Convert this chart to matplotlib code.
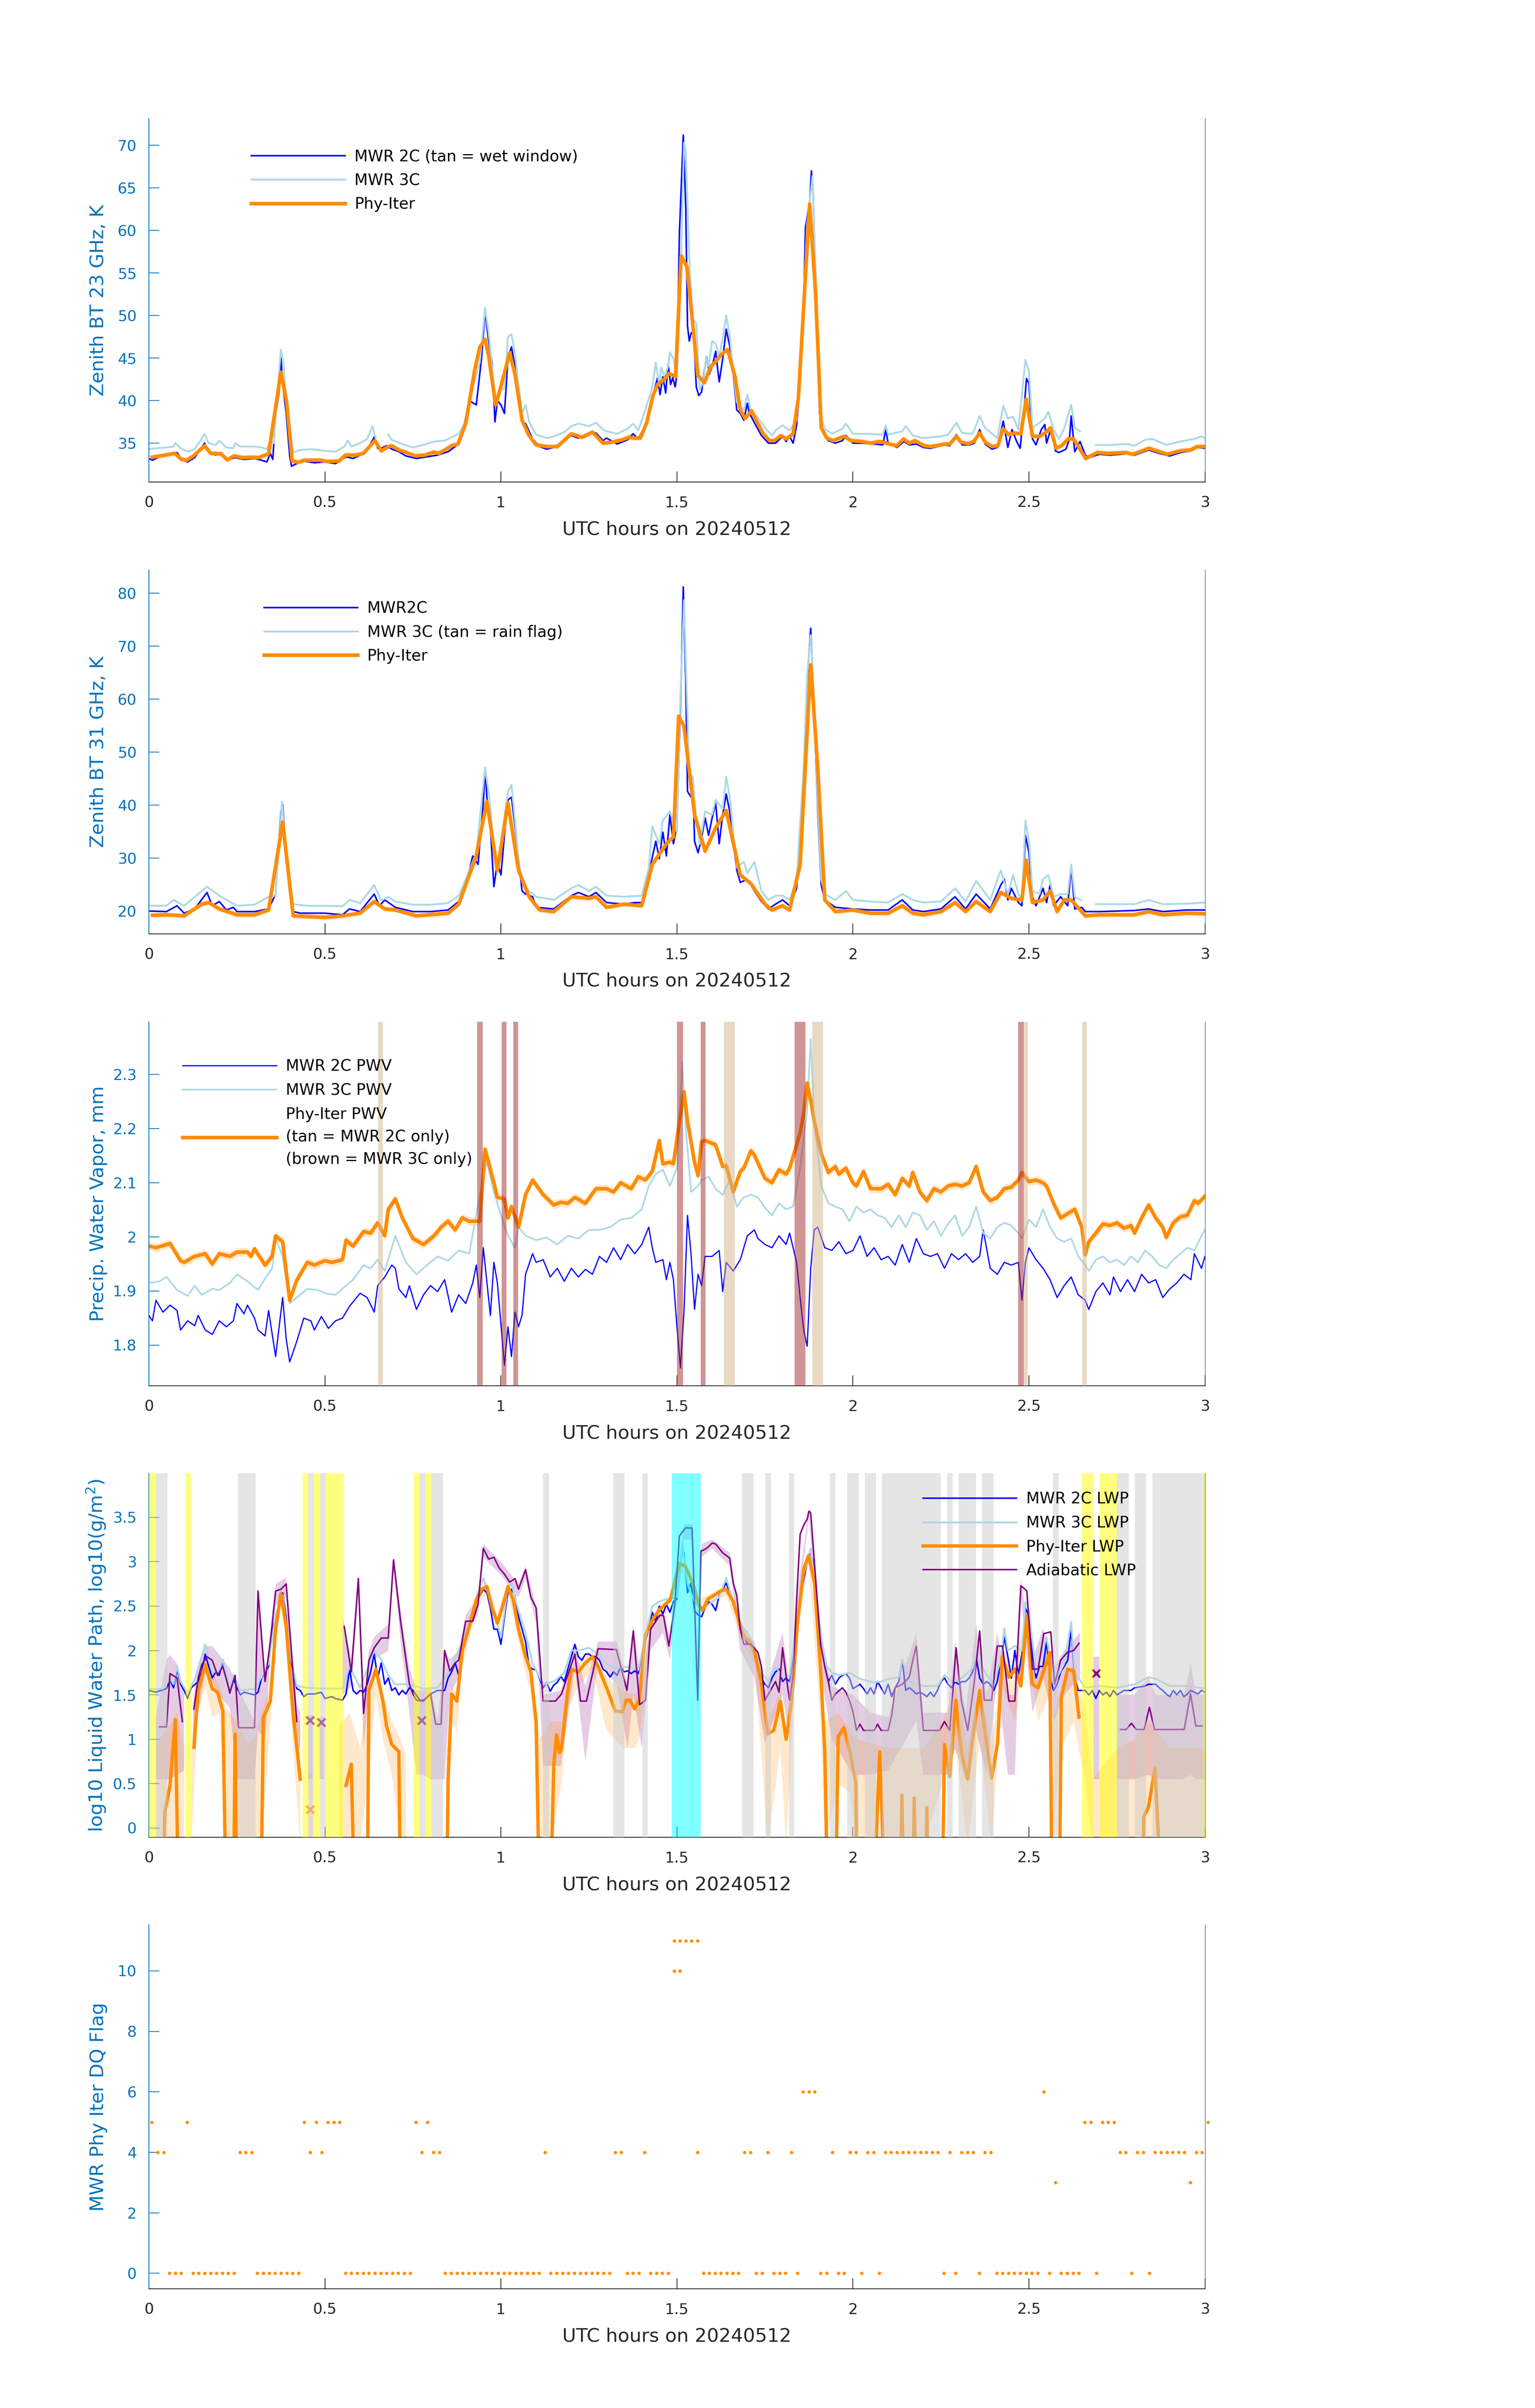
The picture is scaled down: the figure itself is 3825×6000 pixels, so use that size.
import numpy as np
import matplotlib
matplotlib.use("Agg")
import matplotlib.pyplot as plt
from matplotlib.ticker import FuncFormatter

nan = np.nan

# ---------------- values (t in UTC hours) ----------------

# Zenith BT 23 GHz, K
bt23_2c = [(0.00,33.2),(0.01,33.0),(0.03,33.4),(0.06,33.6),(0.08,33.9),(0.095,33.0),(0.11,32.8),(0.13,33.3),
           (0.158,35.0),(0.17,34.0),(0.19,33.6),(0.205,33.9),(0.22,33.0),(0.245,33.3),(0.27,33.1),(0.30,33.2),
           (0.32,33.0),(0.335,32.8),(0.345,33.8),(0.352,33.1),(0.36,38.4),(0.37,41.0),(0.375,45.0),(0.38,42.0),
           (0.39,38.5),(0.40,33.5),(0.405,32.3),(0.42,32.6),(0.44,32.9),(0.47,32.7),(0.50,32.8),(0.53,32.6),
           (0.56,33.4),(0.58,33.2),(0.60,33.6),(0.62,34.2),(0.64,35.7),(0.65,34.4),(0.66,34.4),(0.675,34.7),
           (0.69,34.3),(0.71,34.0),(0.73,33.5),(0.76,33.2),(0.79,33.4),(0.82,33.6),(0.85,34.0),(0.87,34.6),
           (0.89,36.0),(0.91,40.0),(0.93,39.5),(0.945,45.0),(0.955,50.5),(0.965,47.0),(0.975,44.5),(0.983,37.5),
           (0.99,40.0),(1.00,39.5),(1.01,38.5),(1.02,45.0),(1.03,46.3),(1.04,44.0),(1.05,41.0),(1.06,37.5),
           (1.07,37.3),(1.09,35.5),(1.11,34.6),(1.13,34.3),(1.15,34.5),(1.18,35.3),(1.20,35.9),(1.22,35.6),
           (1.25,36.1),(1.27,36.2),(1.29,35.3),(1.30,35.6),(1.33,34.9),(1.36,35.4),(1.375,36.1),(1.39,35.5),
           (1.41,37.1),(1.43,40.3),(1.445,42.7),(1.452,40.7),(1.46,42.8),(1.468,40.9),(1.475,44.3),(1.482,41.9),
           (1.488,42.7),(1.495,41.6),(1.50,43.1),(1.507,59.7),(1.518,71.2),(1.525,62.7),(1.53,48.8),(1.535,47.0),
           (1.54,47.9),(1.547,48.2),(1.555,41.6),(1.562,40.6),(1.57,41.0),(1.578,43.6),(1.585,45.1),(1.592,43.1),
           (1.60,44.0),(1.61,45.8),(1.62,42.2),(1.63,44.9),(1.64,48.4),(1.65,46.4),(1.66,43.1),(1.67,38.9),
           (1.68,38.5),(1.69,37.7),(1.70,39.7),(1.705,38.6),(1.72,37.4),(1.74,35.9),(1.76,35.0),(1.78,35.0),
           (1.80,35.8),(1.81,35.2),(1.82,35.8),(1.83,35.0),(1.84,37.1),(1.85,42.2),(1.86,51.3),(1.865,60.3),
           (1.872,62.1),(1.877,63.3),(1.882,67.0),(1.887,64.2),(1.893,55.2),(1.90,45.2),(1.905,38.6),(1.91,36.8),
           (1.92,35.8),(1.93,35.3),(1.95,35.0),(1.97,35.3),(1.98,35.9),(2.00,35.0),(2.03,35.0),(2.06,34.9),
           (2.085,34.8),(2.093,36.6),(2.10,35.0),(2.125,34.5),(2.145,35.2),(2.16,34.8),(2.18,34.9),(2.20,34.5),
           (2.22,34.4),(2.26,34.8),(2.275,34.7),(2.294,36.0),(2.31,34.8),(2.33,34.8),(2.345,35.0),(2.36,36.6),
           (2.375,34.9),(2.395,34.3),(2.41,34.5),(2.427,37.6),(2.44,34.5),(2.452,36.6),(2.465,35.2),(2.475,34.4),
           (2.487,39.5),(2.493,42.6),(2.50,42.0),(2.51,35.5),(2.52,34.8),(2.535,36.6),(2.545,37.2),(2.55,35.0),
           (2.563,36.8),(2.575,34.1),(2.585,33.9),(2.605,34.3),(2.615,35.5),(2.62,38.2),(2.63,34.0),(2.645,35.2),
           (2.66,33.6),(2.67,33.3),(2.70,33.7),(2.73,33.6),(2.76,33.7),(2.78,33.8),(2.80,33.6),(2.84,34.2),
           (2.87,33.8),(2.90,33.5),(2.93,33.9),(2.96,34.1),(2.98,34.5),(3.00,34.4)]
bt23_3c = [(0.00,34.3),(0.02,34.4),(0.05,34.5),(0.07,34.6),(0.075,35.0),(0.09,34.4),(0.11,34.0),(0.13,34.3),
           (0.145,35.2),(0.158,36.1),(0.17,35.0),(0.19,34.8),(0.20,35.3),(0.22,34.5),(0.24,34.4),(0.245,35.0),
           (0.26,34.6),(0.30,34.6),(0.32,34.5),(0.335,34.3),(0.345,35.2),(0.355,35.0),(0.36,38.0),(0.37,43.5),
           (0.375,46.0),(0.382,44.5),(0.39,40.0),(0.40,37.0),(0.41,33.9),(0.43,34.2),(0.46,34.3),(0.50,34.1),
           (0.53,34.0),(0.555,34.6),(0.565,35.3),(0.575,34.6),(0.60,35.0),(0.62,35.5),(0.635,37.0),(0.644,35.6),
           (0.66,nan),(0.68,36.0),(0.69,35.4),(0.72,34.9),(0.75,34.5),(0.78,34.8),(0.81,35.2),(0.84,35.3),
           (0.86,35.7),(0.88,36.1),(0.90,37.6),(0.92,41.5),(0.94,44.5),(0.955,50.9),(0.965,48.0),(0.975,44.0),
           (0.985,39.5),(0.995,41.0),(1.01,41.5),(1.02,47.5),(1.03,47.8),(1.04,45.5),(1.05,42.0),(1.06,38.5),
           (1.07,39.5),(1.08,37.5),(1.10,36.0),(1.13,35.6),(1.15,35.8),(1.18,36.3),(1.20,37.0),(1.22,37.3),
           (1.25,37.0),(1.27,37.4),(1.29,36.6),(1.30,36.4),(1.33,36.1),(1.36,36.7),(1.375,37.3),(1.39,36.5),
           (1.41,38.9),(1.43,41.6),(1.44,44.5),(1.45,41.8),(1.455,43.9),(1.465,42.8),(1.475,44.0),(1.48,45.7),
           (1.49,44.9),(1.50,42.8),(1.51,53.7),(1.52,70.3),(1.525,69.3),(1.535,56.7),(1.545,49.6),(1.555,49.1),
           (1.565,41.3),(1.575,42.2),(1.583,45.2),(1.59,44.0),(1.60,47.0),(1.61,46.7),(1.62,45.2),(1.63,47.3),
           (1.64,50.0),(1.65,47.6),(1.66,43.4),(1.67,39.8),(1.69,38.9),(1.70,40.7),(1.71,38.9),(1.73,38.0),
           (1.75,36.8),(1.77,35.9),(1.78,36.5),(1.80,37.1),(1.82,36.5),(1.84,37.7),(1.85,44.6),(1.86,52.2),
           (1.87,60.9),(1.885,66.4),(1.893,56.7),(1.90,48.2),(1.91,38.0),(1.92,36.7),(1.94,36.1),(1.97,36.7),
           (1.98,37.3),(2.00,36.1),(2.05,36.1),(2.085,36.0),(2.093,37.1),(2.10,36.0),(2.14,36.4),(2.15,37.0),
           (2.17,35.9),(2.20,35.6),(2.25,35.8),(2.27,36.0),(2.294,37.4),(2.31,36.2),(2.34,36.1),(2.36,38.2),
           (2.375,36.8),(2.41,35.6),(2.427,39.4),(2.44,37.9),(2.455,38.1),(2.47,36.6),(2.49,44.8),(2.50,43.5),
           (2.51,36.8),(2.53,37.4),(2.545,37.9),(2.555,38.7),(2.57,36.6),(2.585,35.5),(2.60,36.7),(2.62,39.5),
           (2.63,36.8),(2.645,36.4),(2.665,nan),(2.69,34.8),(2.73,34.8),(2.78,34.9),(2.80,34.7),(2.83,35.4),
           (2.85,35.5),(2.89,34.8),(2.93,35.2),(2.97,35.5),(2.99,35.8),(3.00,35.6)]
bt23_phy = [(0.01,33.35),(0.074,33.8),(0.092,33.1),(0.107,33.0),(0.125,33.45),(0.158,34.7),(0.176,33.8),
            (0.205,33.75),(0.223,33.05),(0.242,33.5),(0.267,33.3),(0.289,33.35),(0.311,33.3),(0.34,33.75),
            (0.375,43.35),(0.391,39.9),(0.407,32.9),(0.424,32.75),(0.442,33.0),(0.485,33.0),(0.507,32.85),
            (0.54,32.9),(0.558,33.6),(0.587,33.6),(0.609,33.8),(0.642,35.3),(0.66,34.1),(0.678,34.55),(0.689,34.7),
            (0.711,34.2),(0.758,33.5),(0.784,33.6),(0.809,33.95),(0.824,33.8),(0.86,34.7),(0.878,34.9),(0.90,37.3),
            (0.925,43.5),(0.94,46.3),(0.955,47.2),(0.965,45.3),(0.985,39.5),(1.00,41.7),(1.025,45.6),(1.04,43.1),
            (1.06,37.7),(1.08,35.9),(1.10,34.8),(1.13,34.6),(1.16,34.6),(1.20,36.1),(1.23,35.7),(1.26,36.3),
            (1.29,35.0),(1.312,35.1),(1.345,35.4),(1.363,35.7),(1.378,35.6),(1.396,35.6),(1.414,37.4),(1.432,40.6),
            (1.445,41.9),(1.464,42.5),(1.477,43.2),(1.496,42.8),(1.512,57.0),(1.528,55.8),(1.541,50.6),(1.559,43.0),
            (1.578,42.1),(1.596,44.0),(1.61,44.6),(1.628,45.5),(1.644,46.0),(1.665,42.8),(1.68,38.9),(1.694,37.9),
            (1.712,38.8),(1.73,37.3),(1.745,36.1),(1.763,35.3),(1.777,35.3),(1.795,35.9),(1.81,35.5),(1.83,36.1),
            (1.845,40.3),(1.877,63.1),(1.894,52.5),(1.91,36.8),(1.926,35.6),(1.944,35.3),(1.974,35.8),(1.995,35.3),
            (2.025,35.2),(2.05,35.0),(2.076,35.2),(2.124,34.7),(2.144,35.5),(2.16,35.0),(2.176,35.3),(2.202,34.7),
            (2.222,34.6),(2.261,34.9),(2.275,34.9),(2.294,35.8),(2.307,35.1),(2.327,34.95),(2.343,35.2),(2.36,36.2),
            (2.376,35.1),(2.395,34.6),(2.412,34.7),(2.426,36.7),(2.443,36.0),(2.457,36.2),(2.477,36.1),(2.492,40.2),
            (2.51,35.8),(2.53,35.8),(2.546,36.2),(2.561,36.8),(2.577,34.4),(2.592,34.7),(2.612,35.5),(2.627,35.5),
            (2.661,33.2),(2.694,33.9),(2.726,33.8),(2.775,33.9),(2.795,33.7),(2.841,34.4),(2.893,33.7),(2.929,34.1),
            (2.958,34.2),(2.978,34.6),(3.00,34.6)]

# Zenith BT 31 GHz, K
bt31_2c = [(0.00,20.0),(0.05,19.9),(0.08,21.0),(0.10,19.6),(0.13,20.4),(0.165,23.5),(0.18,21.0),(0.20,21.8),
           (0.22,20.2),(0.24,20.7),(0.25,19.9),(0.30,19.9),(0.34,20.4),(0.36,23.2),(0.375,38.8),(0.38,40.1),
           (0.39,30.4),(0.41,19.9),(0.43,19.6),(0.50,19.6),(0.55,19.3),(0.57,20.4),(0.60,19.9),(0.64,23.2),
           (0.655,21.0),(0.67,22.1),(0.70,20.7),(0.75,19.9),(0.80,19.9),(0.85,20.2),(0.88,21.8),(0.90,24.9),
           (0.92,30.4),(0.935,28.8),(0.95,40.4),(0.955,47.1),(0.96,41.5),(0.97,36.0),(0.98,24.6),(0.99,29.3),
           (1.00,26.8),(1.01,34.3),(1.02,41.0),(1.03,41.5),(1.04,36.0),(1.05,29.9),(1.06,23.8),(1.07,23.2),
           (1.09,22.7),(1.10,20.7),(1.15,20.4),(1.20,22.9),(1.22,23.5),(1.25,22.7),(1.27,23.5),(1.30,21.6),
           (1.35,21.3),(1.38,21.6),(1.40,21.6),(1.42,27.1),(1.44,33.2),(1.45,29.9),(1.46,34.9),(1.47,30.4),
           (1.48,38.2),(1.49,32.7),(1.50,36.0),(1.51,58.2),(1.518,81.2),(1.525,63.7),(1.53,42.6),(1.54,41.5),
           (1.545,45.4),(1.55,33.2),(1.56,31.0),(1.57,33.8),(1.58,37.6),(1.59,34.3),(1.60,37.6),(1.61,40.4),
           (1.62,32.7),(1.63,38.2),(1.64,42.1),(1.65,38.8),(1.66,33.2),(1.67,27.7),(1.68,25.4),(1.70,26.0),
           (1.72,23.8),(1.74,21.8),(1.76,20.4),(1.78,21.3),(1.80,22.1),(1.82,21.0),(1.84,24.3),(1.85,32.7),
           (1.86,47.1),(1.87,63.7),(1.88,73.4),(1.89,58.2),(1.90,38.8),(1.91,24.9),(1.92,22.1),(1.95,20.7),
           (2.00,20.4),(2.05,20.2),(2.10,20.2),(2.14,22.1),(2.17,20.2),(2.20,19.9),(2.25,20.4),(2.29,22.7),
           (2.32,20.4),(2.35,23.2),(2.39,20.4),(2.42,24.9),(2.43,26.0),(2.44,22.1),(2.45,24.3),(2.47,21.6),
           (2.48,21.0),(2.49,34.3),(2.50,31.0),(2.51,22.7),(2.52,21.0),(2.54,24.3),(2.55,21.6),(2.56,24.9),
           (2.57,21.0),(2.59,22.7),(2.61,21.0),(2.62,28.2),(2.63,20.4),(2.65,20.7),(2.66,19.9),(2.70,19.9),
           (2.80,20.1),(2.84,20.4),(2.88,19.9),(2.95,20.2),(3.00,20.2)]
bt31_3c = [(0.00,21.0),(0.05,21.0),(0.07,22.1),(0.10,21.0),(0.165,24.6),(0.20,22.9),(0.25,21.0),(0.30,21.2),
           (0.34,22.7),(0.36,22.9),(0.378,40.7),(0.39,30.4),(0.41,21.3),(0.45,21.0),(0.50,21.0),(0.55,20.9),
           (0.57,22.1),(0.60,21.5),(0.64,24.9),(0.66,22.0),(0.68,22.7),(0.70,21.8),(0.75,21.2),(0.80,21.2),
           (0.85,21.5),(0.88,22.9),(0.90,26.0),(0.93,31.0),(0.955,47.1),(0.97,39.9),(0.98,30.4),(0.99,27.1),
           (1.00,32.7),(1.02,42.6),(1.03,43.8),(1.04,37.1),(1.05,29.9),(1.06,25.4),(1.08,23.8),(1.10,22.7),
           (1.15,22.1),(1.20,24.3),(1.22,24.9),(1.25,23.8),(1.27,24.6),(1.30,22.9),(1.35,22.7),(1.40,22.9),
           (1.42,28.2),(1.43,36.0),(1.45,32.7),(1.46,37.1),(1.48,38.8),(1.50,34.9),(1.51,61.0),(1.52,78.7),
           (1.525,67.6),(1.535,46.0),(1.545,45.4),(1.555,37.1),(1.565,32.7),(1.58,38.8),(1.60,38.2),(1.61,41.0),
           (1.63,39.3),(1.64,45.4),(1.65,41.5),(1.66,34.9),(1.67,28.2),(1.69,29.3),(1.70,27.1),(1.72,29.3),
           (1.74,23.8),(1.76,22.1),(1.78,22.9),(1.80,22.9),(1.82,22.1),(1.84,26.0),(1.86,47.1),(1.87,64.8),
           (1.88,72.1),(1.89,59.3),(1.90,40.4),(1.91,26.0),(1.92,23.2),(1.95,22.1),(1.98,23.8),(2.00,22.1),
           (2.05,21.8),(2.10,21.6),(2.14,23.2),(2.17,22.1),(2.20,21.6),(2.25,21.8),(2.29,24.3),(2.32,21.8),
           (2.35,25.7),(2.39,22.1),(2.42,27.7),(2.43,25.4),(2.44,23.2),(2.455,26.8),(2.47,23.2),(2.48,22.1),
           (2.49,37.1),(2.50,33.2),(2.51,23.8),(2.53,23.2),(2.54,26.0),(2.555,26.8),(2.57,22.7),(2.59,23.2),
           (2.61,23.2),(2.62,28.8),(2.63,22.7),(2.647,22.1),(2.665,nan),(2.69,21.3),(2.75,21.3),(2.80,21.3),
           (2.84,22.1),(2.88,21.3),(2.95,21.4),(3.00,21.6)]
bt31_phy = [(0.01,19.2),(0.05,19.3),(0.10,19.1),(0.15,21.3),(0.17,21.6),(0.20,20.4),(0.25,19.3),(0.30,19.3),
            (0.34,20.2),(0.38,36.8),(0.41,19.1),(0.50,18.8),(0.55,19.1),(0.60,19.6),(0.64,21.8),(0.67,20.4),
            (0.70,20.2),(0.76,19.1),(0.85,19.6),(0.88,21.3),(0.93,30.4),(0.96,40.7),(0.99,27.7),(1.02,40.4),
            (1.05,27.7),(1.08,22.7),(1.11,20.2),(1.15,19.9),(1.20,22.7),(1.25,22.4),(1.27,22.7),(1.30,20.7),
            (1.35,21.3),(1.40,21.0),(1.43,28.8),(1.47,32.7),(1.49,34.0),(1.505,56.8),(1.52,54.9),(1.55,38.2),
            (1.58,31.3),(1.61,35.7),(1.64,39.0),(1.68,26.8),(1.71,25.2),(1.75,21.3),(1.77,20.2),(1.80,21.0),
            (1.82,20.2),(1.85,28.8),(1.88,66.5),(1.90,47.1),(1.92,22.1),(1.95,19.9),(2.00,20.2),(2.05,19.6),
            (2.10,19.6),(2.14,21.0),(2.17,19.6),(2.20,19.3),(2.25,19.9),(2.29,21.6),(2.32,19.9),(2.35,21.8),
            (2.39,19.9),(2.42,23.5),(2.45,22.4),(2.48,22.1),(2.492,29.6),(2.51,21.6),(2.54,22.1),(2.56,23.8),
            (2.58,19.9),(2.60,22.1),(2.62,22.1),(2.66,19.1),(2.70,19.3),(2.80,19.3),(2.84,19.9),(2.88,19.3),
            (2.95,19.6),(3.00,19.5)]

# Precipitable water vapour, mm
pwv_2c = [(0.00,1.855),(0.01,1.845),(0.02,1.883),(0.04,1.861),(0.06,1.874),(0.08,1.864),(0.09,1.828),(0.11,1.845),
          (0.13,1.836),(0.14,1.855),(0.16,1.828),(0.18,1.820),(0.20,1.845),(0.22,1.834),(0.24,1.845),(0.25,1.877),
          (0.27,1.858),(0.28,1.874),(0.30,1.850),(0.31,1.828),(0.33,1.817),(0.34,1.864),(0.36,1.779),(0.37,1.834),
          (0.38,1.888),(0.39,1.812),(0.40,1.769),(0.42,1.807),(0.44,1.850),(0.46,1.845),(0.47,1.828),(0.49,1.853),
          (0.51,1.831),(0.53,1.845),(0.55,1.850),(0.57,1.872),(0.59,1.888),(0.60,1.896),(0.62,1.888),(0.64,1.861),
          (0.65,1.910),(0.67,1.926),(0.69,1.948),(0.70,1.942),(0.71,1.904),(0.73,1.888),(0.74,1.910),(0.76,1.866),
          (0.78,1.893),(0.80,1.910),(0.82,1.899),(0.84,1.921),(0.86,1.861),(0.88,1.893),(0.90,1.877),(0.92,1.915),
          (0.93,1.948),(0.94,1.888),(0.95,1.980),(0.97,1.855),(0.98,1.953),(0.99,1.915),(1.01,1.763),(1.02,1.834),
          (1.03,1.779),(1.04,1.861),(1.05,1.834),(1.06,1.855),(1.07,1.931),(1.09,1.969),(1.10,1.953),(1.12,1.958),
          (1.14,1.926),(1.16,1.942),(1.18,1.918),(1.20,1.942),(1.22,1.926),(1.24,1.940),(1.26,1.931),(1.28,1.964),
          (1.30,1.953),(1.32,1.980),(1.34,1.958),(1.36,1.986),(1.38,1.969),(1.40,1.986),(1.42,2.018),(1.43,1.980),
          (1.44,1.953),(1.46,1.958),(1.47,1.921),(1.48,1.953),(1.49,1.921),(1.50,1.834),(1.51,1.758),(1.52,1.861),
          (1.53,2.040),(1.54,1.969),(1.55,1.866),(1.56,1.931),(1.57,1.910),(1.58,1.964),(1.60,1.964),(1.62,1.975),
          (1.63,1.899),(1.64,1.953),(1.66,1.937),(1.68,1.958),(1.70,2.002),(1.72,2.013),(1.73,1.997),(1.75,1.986),
          (1.77,1.980),(1.79,2.002),(1.81,1.986),(1.82,2.007),(1.84,1.953),(1.85,1.888),(1.86,1.828),(1.87,1.798),
          (1.88,1.942),(1.89,2.013),(1.90,2.018),(1.92,1.980),(1.94,1.975),(1.96,1.991),(1.98,1.969),(2.00,1.975),
          (2.02,2.002),(2.04,1.964),(2.06,1.980),(2.08,1.958),(2.10,1.964),(2.12,1.948),(2.14,1.986),(2.16,1.953),
          (2.18,1.997),(2.20,1.969),(2.22,1.964),(2.24,1.969),(2.26,1.942),(2.28,1.969),(2.30,1.958),(2.32,1.969),
          (2.34,1.953),(2.36,1.964),(2.37,2.013),(2.39,1.942),(2.41,1.931),(2.43,1.953),(2.45,1.948),(2.47,1.953),
          (2.48,1.883),(2.49,1.953),(2.50,1.980),(2.52,1.958),(2.54,1.942),(2.56,1.921),(2.58,1.888),(2.60,1.910),
          (2.62,1.926),(2.64,1.893),(2.66,1.883),(2.67,1.866),(2.69,1.899),(2.71,1.915),(2.73,1.893),(2.74,1.926),
          (2.76,1.899),(2.78,1.921),(2.80,1.899),(2.82,1.931),(2.84,1.915),(2.86,1.921),(2.88,1.888),(2.90,1.904),
          (2.92,1.915),(2.94,1.931),(2.96,1.921),(2.97,1.969),(2.99,1.942),(3.00,1.964)]
pwv_3c = [(0.00,1.915),(0.03,1.918),(0.05,1.926),(0.08,1.902),(0.11,1.891),(0.13,1.910),(0.15,1.893),(0.18,1.904),
          (0.20,1.902),(0.23,1.915),(0.25,1.931),(0.28,1.918),(0.31,1.902),(0.33,1.923),(0.35,1.942),(0.36,1.997),
          (0.38,1.964),(0.40,1.877),(0.42,1.888),(0.45,1.904),(0.48,1.902),(0.50,1.896),(0.53,1.893),(0.56,1.910),
          (0.58,1.921),(0.61,1.948),(0.63,1.942),(0.65,1.958),(0.67,1.937),(0.69,1.980),(0.70,2.002),(0.73,1.953),
          (0.76,1.931),(0.79,1.948),(0.82,1.964),(0.85,1.956),(0.88,1.975),(0.91,1.969),(0.94,2.078),(0.96,2.138),
          (0.98,2.083),(1.00,2.040),(1.02,2.002),(1.04,1.980),(1.05,2.018),(1.07,2.002),(1.10,1.994),(1.13,1.999),
          (1.16,1.986),(1.19,2.002),(1.22,1.997),(1.25,2.013),(1.28,2.013),(1.31,2.018),(1.34,2.032),(1.37,2.035),
          (1.40,2.051),(1.42,2.094),(1.44,2.116),(1.46,2.124),(1.48,2.094),(1.50,2.127),(1.515,2.322),(1.525,2.203),
          (1.54,2.083),(1.56,2.094),(1.57,2.105),(1.59,2.111),(1.61,2.089),(1.63,2.078),(1.65,2.105),(1.67,2.056),
          (1.69,2.073),(1.71,2.078),(1.73,2.073),(1.75,2.054),(1.77,2.040),(1.79,2.062),(1.81,2.051),(1.83,2.056),
          (1.85,2.127),(1.87,2.235),(1.88,2.366),(1.89,2.214),(1.91,2.094),(1.93,2.062),(1.95,2.056),(1.97,2.051),
          (1.99,2.029),(2.01,2.056),(2.03,2.045),(2.05,2.051),(2.07,2.040),(2.09,2.035),(2.11,2.018),(2.13,2.040),
          (2.15,2.018),(2.17,2.045),(2.19,2.040),(2.21,2.013),(2.23,2.029),(2.25,2.002),(2.27,2.024),(2.29,2.040),
          (2.31,2.002),(2.33,2.018),(2.35,2.056),(2.37,2.007),(2.39,1.997),(2.41,2.018),(2.43,2.026),(2.45,2.021),
          (2.47,2.007),(2.48,1.997),(2.50,2.032),(2.52,2.018),(2.54,2.051),(2.56,2.018),(2.58,1.997),(2.60,1.991),
          (2.62,1.997),(2.64,1.964),(2.66,1.948),(2.67,1.937),(2.69,1.958),(2.71,1.964),(2.73,1.953),(2.75,1.958),
          (2.77,1.948),(2.79,1.964),(2.81,1.953),(2.83,1.975),(2.85,1.964),(2.87,1.948),(2.89,1.942),(2.91,1.958),
          (2.93,1.969),(2.95,1.980),(2.97,1.975),(2.99,2.002),(3.00,2.013)]
pwv_phy = [(0.00,1.983),(0.02,1.980),(0.05,1.986),(0.06,1.988),(0.09,1.956),(0.10,1.953),(0.13,1.964),(0.16,1.969),
           (0.18,1.950),(0.20,1.969),(0.23,1.964),(0.25,1.972),(0.28,1.972),(0.29,1.964),(0.30,1.978),(0.33,1.948),
           (0.35,1.964),(0.36,2.002),(0.38,1.991),(0.40,1.883),(0.42,1.920),(0.45,1.953),(0.47,1.948),(0.50,1.956),
           (0.52,1.953),(0.55,1.958),(0.56,1.994),(0.58,1.983),(0.61,2.010),(0.63,2.007),(0.65,2.026),(0.67,2.002),
           (0.68,2.051),(0.70,2.070),(0.72,2.035),(0.75,1.997),(0.78,1.986),(0.81,2.002),(0.83,2.018),(0.85,2.029),
           (0.87,2.013),(0.89,2.035),(0.91,2.029),(0.94,2.029),(0.955,2.162),(0.98,2.100),(0.99,2.073),(1.01,2.070),
           (1.02,2.035),(1.03,2.056),(1.05,2.018),(1.07,2.078),(1.09,2.105),(1.12,2.078),(1.15,2.059),(1.17,2.064),
           (1.19,2.062),(1.21,2.073),(1.24,2.062),(1.27,2.089),(1.30,2.089),(1.32,2.083),(1.34,2.100),(1.37,2.089),
           (1.39,2.111),(1.41,2.105),(1.43,2.121),(1.45,2.178),(1.46,2.135),(1.48,2.138),(1.49,2.135),(1.505,2.203),
           (1.52,2.268),(1.53,2.214),(1.55,2.138),(1.56,2.113),(1.57,2.176),(1.58,2.178),(1.61,2.170),(1.63,2.130),
           (1.64,2.132),(1.66,2.083),(1.68,2.121),(1.69,2.127),(1.71,2.159),(1.72,2.151),(1.75,2.108),(1.77,2.100),
           (1.79,2.124),(1.81,2.116),(1.82,2.127),(1.84,2.170),(1.85,2.192),(1.86,2.227),(1.87,2.284),(1.88,2.252),
           (1.89,2.214),(1.91,2.154),(1.93,2.119),(1.95,2.130),(1.96,2.116),(1.98,2.127),(2.00,2.100),(2.01,2.094),
           (2.03,2.121),(2.05,2.089),(2.08,2.089),(2.10,2.097),(2.12,2.078),(2.14,2.108),(2.16,2.094),(2.17,2.119),
           (2.19,2.083),(2.21,2.067),(2.23,2.089),(2.25,2.083),(2.27,2.094),(2.29,2.097),(2.31,2.094),(2.33,2.100),
           (2.35,2.130),(2.37,2.083),(2.39,2.067),(2.41,2.073),(2.43,2.089),(2.45,2.092),(2.47,2.105),(2.48,2.119),
           (2.50,2.102),(2.52,2.105),(2.54,2.100),(2.55,2.094),(2.57,2.062),(2.59,2.035),(2.61,2.043),(2.63,2.051),
           (2.65,2.018),(2.66,1.967),(2.67,1.991),(2.69,2.007),(2.71,2.024),(2.73,2.021),(2.75,2.026),(2.77,2.016),
           (2.79,2.021),(2.80,2.007),(2.82,2.035),(2.84,2.059),(2.86,2.035),(2.88,2.018),(2.89,1.999),(2.91,2.026),
           (2.93,2.037),(2.95,2.040),(2.97,2.067),(2.98,2.062),(3.00,2.075)]
pwv_tan = [(0.651,0.665),(1.634,1.664),(1.884,1.915),(2.485,2.496),(2.652,2.664)]
pwv_brown = [(0.932,0.949),(1.002,1.016),(1.035,1.049),(1.500,1.517),(1.567,1.581),(1.834,1.865),(2.469,2.485)]

# log10 liquid water path (values below the axis are zero LWP)
lwp_2c = [(0.00,1.55),(0.02,1.53),(0.05,1.57),(0.06,1.67),(0.07,1.58),(0.08,1.79),(0.09,1.62),(0.10,1.55),
          (0.11,1.46),(0.12,1.58),(0.14,1.65),(0.15,1.76),(0.16,1.96),(0.17,1.82),(0.18,1.69),(0.19,1.76),
          (0.20,1.72),(0.21,1.89),(0.22,1.69),(0.23,1.52),(0.24,1.69),(0.25,1.58),(0.26,1.50),(0.27,1.53),
          (0.29,1.51),(0.30,1.50),(0.31,1.53),(0.32,1.69),(0.33,1.76),(0.34,1.82),(0.35,2.24),(0.36,2.36),
          (0.37,2.52),(0.38,2.65),(0.39,2.38),(0.40,1.96),(0.41,1.76),(0.42,1.57),(0.43,1.55),(0.44,1.48),
          (0.45,1.51),(0.47,1.51),(0.49,1.53),(0.50,1.46),(0.52,1.48),(0.53,1.46),(0.55,1.44),(0.56,1.51),
          (0.57,1.79),(0.58,1.55),(0.59,1.51),(0.60,1.55),(0.61,1.53),(0.62,1.62),(0.63,1.76),(0.64,1.96),
          (0.65,1.69),(0.66,1.86),(0.67,1.62),(0.68,1.69),(0.69,1.55),(0.70,1.58),(0.71,1.50),(0.72,1.55),
          (0.73,1.51),(0.74,1.58),(0.75,1.55),(0.77,1.44),(0.78,1.44),(0.80,1.51),(0.82,1.55),(0.84,1.55),
          (0.85,1.69),(0.86,1.76),(0.87,1.86),(0.88,1.72),(0.89,1.96),(0.90,2.17),(0.91,2.27),(0.92,2.38),
          (0.93,2.55),(0.94,2.62),(0.95,2.69),(0.96,2.65),(0.97,2.48),(0.98,2.24),(0.99,2.24),(1.00,2.07),
          (1.01,2.38),(1.02,2.65),(1.03,2.69),(1.04,2.62),(1.05,2.38),(1.06,2.24),(1.07,2.10),(1.08,1.82),
          (1.09,1.79),(1.10,1.78),(1.12,1.58),(1.13,1.64),(1.14,1.54),(1.15,1.61),(1.16,1.64),(1.17,1.71),
          (1.18,1.65),(1.20,1.93),(1.21,2.07),(1.22,1.93),(1.23,1.89),(1.24,1.96),(1.25,1.96),(1.26,1.93),
          (1.27,1.93),(1.28,1.89),(1.29,1.79),(1.30,1.76),(1.31,1.70),(1.32,1.76),(1.33,1.72),(1.34,1.82),
          (1.35,1.76),(1.36,1.77),(1.37,1.74),(1.38,1.77),(1.39,1.74),(1.40,1.96),(1.41,2.10),(1.42,2.24),
          (1.43,2.43),(1.44,2.33),(1.45,2.50),(1.46,2.41),(1.47,2.52),(1.48,2.43),(1.49,2.55),(1.50,2.58),
          (1.51,2.93),(1.515,3.14),(1.52,3.10),(1.53,2.65),(1.54,2.76),(1.55,2.45),(1.56,2.40),(1.57,2.38),
          (1.58,2.48),(1.59,2.55),(1.60,2.52),(1.61,2.45),(1.62,2.62),(1.63,2.69),(1.64,2.76),(1.65,2.65),
          (1.66,2.52),(1.67,2.39),(1.68,2.24),(1.69,2.17),(1.70,2.07),(1.71,2.10),(1.72,2.00),(1.73,1.82),
          (1.74,1.69),(1.75,1.62),(1.76,1.58),(1.77,1.69),(1.78,1.76),(1.79,1.79),(1.80,1.65),(1.81,1.69),
          (1.82,1.65),(1.83,1.93),(1.84,2.27),(1.85,2.58),(1.86,2.79),(1.87,3.00),(1.88,3.10),(1.89,2.96),
          (1.90,2.45),(1.91,2.07),(1.92,1.82),(1.93,1.65),(1.94,1.72),(1.95,1.62),(1.96,1.69),(1.97,1.72),
          (1.98,1.74),(1.99,1.69),(2.00,1.57),(2.02,1.62),(2.03,1.57),(2.04,1.51),(2.05,1.58),(2.06,1.51),
          (2.07,1.65),(2.08,1.58),(2.09,1.51),(2.10,1.62),(2.11,1.48),(2.12,1.58),(2.13,1.65),(2.14,1.89),
          (2.15,1.55),(2.16,1.58),(2.17,1.55),(2.18,1.51),(2.19,1.53),(2.20,1.51),(2.21,1.48),(2.22,1.53),
          (2.23,1.48),(2.24,1.55),(2.25,1.65),(2.26,1.69),(2.27,1.62),(2.28,1.58),(2.29,1.65),(2.30,1.62),
          (2.31,1.65),(2.32,1.65),(2.33,1.69),(2.34,1.76),(2.35,1.93),(2.36,1.69),(2.37,1.62),(2.38,1.65),
          (2.39,1.62),(2.40,1.55),(2.41,1.65),(2.42,1.88),(2.43,2.15),(2.44,1.93),(2.45,1.69),(2.46,2.00),
          (2.47,1.72),(2.48,1.96),(2.49,2.48),(2.50,2.38),(2.51,1.96),(2.52,1.69),(2.53,1.82),(2.54,1.82),
          (2.55,2.10),(2.56,1.69),(2.57,1.55),(2.58,1.62),(2.59,1.76),(2.60,1.82),(2.61,1.89),(2.62,2.24),
          (2.63,1.69),(2.64,1.55),(2.66,1.55),(2.67,1.50),(2.68,1.55),(2.69,1.46),(2.70,1.55),(2.71,1.50),
          (2.72,1.53),(2.73,1.48),(2.74,1.55),(2.75,1.50),(2.77,1.55),(2.79,1.55),(2.80,1.58),(2.83,1.60),
          (2.84,1.62),(2.86,1.62),(2.87,1.58),(2.88,1.55),(2.89,1.51),(2.90,1.48),(2.91,1.55),(2.92,1.50),
          (2.93,1.55),(2.94,1.48),(2.95,1.51),(2.96,1.55),(2.97,1.53),(2.98,1.51),(2.99,1.55),(3.00,1.53)]
lwp_3c = [(0.00,1.57),(0.02,1.56),(0.04,1.57),(0.06,1.68),(0.07,1.62),(0.08,1.82),(0.09,1.65),(0.11,1.52),
          (0.13,1.67),(0.16,2.07),(0.18,1.75),(0.20,1.78),(0.21,1.90),(0.23,1.55),(0.24,1.72),(0.26,1.55),
          (0.30,1.57),(0.32,1.70),(0.34,1.85),(0.36,2.40),(0.38,2.62),(0.40,2.00),(0.42,1.60),(0.45,1.58),
          (0.50,1.57),(0.55,1.57),(0.57,1.82),(0.60,1.58),(0.64,2.00),(0.66,1.90),(0.68,1.72),(0.70,1.62),
          (0.74,1.62),(0.78,1.57),(0.82,1.58),(0.86,1.80),(0.90,2.20),(0.93,2.60),(0.95,2.82),(0.97,2.55),
          (0.99,2.30),(1.00,2.15),(1.02,2.72),(1.03,2.75),(1.05,2.45),(1.07,2.20),(1.09,1.85),(1.12,1.62),
          (1.15,1.65),(1.18,1.75),(1.20,2.00),(1.22,2.00),(1.25,2.03),(1.28,1.95),(1.30,1.85),(1.33,1.80),
          (1.36,1.82),(1.39,1.78),(1.41,2.15),(1.43,2.50),(1.45,2.55),(1.47,2.58),(1.50,2.60),(1.51,2.95),
          (1.515,3.20),(1.53,2.75),(1.55,2.55),(1.57,2.45),(1.60,2.55),(1.62,2.60),(1.64,2.82),(1.66,2.55),
          (1.68,2.30),(1.70,2.20),(1.72,2.05),(1.74,1.75),(1.76,1.65),(1.78,1.82),(1.80,1.70),(1.82,1.72),
          (1.84,2.30),(1.86,2.85),(1.88,3.15),(1.90,2.50),(1.92,1.85),(1.94,1.75),(1.96,1.72),(1.99,1.75),
          (2.02,1.68),(2.06,1.64),(2.08,1.65),(2.10,1.68),(2.13,1.70),(2.14,1.90),(2.16,1.65),(2.20,1.60),
          (2.24,1.60),(2.26,1.72),(2.28,1.65),(2.30,1.66),(2.34,1.80),(2.35,1.95),(2.38,1.72),(2.40,1.62),
          (2.42,1.90),(2.43,2.25),(2.44,2.00),(2.46,2.05),(2.48,2.00),(2.49,2.55),(2.50,2.45),(2.52,1.75),
          (2.55,2.15),(2.57,1.62),(2.60,1.85),(2.62,2.32),(2.63,1.75),(2.66,1.58),(2.70,1.60),(2.75,1.58),
          (2.80,1.62),(2.84,1.70),(2.86,1.68),(2.90,1.60),(2.95,1.60),(3.00,1.57)]
lwp_phy = [(0.04,-1),(0.045,0.17),(0.06,0.48),(0.075,1.22),(0.085,-1),(0.10,nan),
           (0.128,0.91),(0.14,1.55),(0.16,1.84),(0.18,1.57),(0.195,1.53),(0.21,1.32),(0.22,-1),(0.24,-1),
           (0.245,1.06),(0.25,-1),(0.26,nan),
           (0.318,-1),(0.325,1.24),(0.345,1.43),(0.36,2.24),(0.375,2.64),(0.39,2.27),(0.41,1.27),(0.43,0.55),(0.44,nan),
           (0.56,0.48),(0.575,0.72),(0.585,-1),(0.60,nan),
           (0.62,-1),(0.625,1.55),(0.645,1.79),(0.665,1.43),(0.675,1.15),(0.69,0.94),(0.71,0.86),(0.715,-1),(0.73,nan),
           (0.845,-1),(0.85,0.55),(0.86,1.51),(0.875,1.43),(0.89,2.00),(0.91,2.27),(0.93,2.57),(0.945,2.69),
           (0.96,2.72),(0.975,2.48),(0.99,2.31),(1.005,2.50),(1.02,2.72),(1.035,2.57),(1.05,2.24),(1.07,1.93),
           (1.085,1.76),(1.10,1.20),(1.11,-1),(1.14,-1),(1.15,0.70),(1.158,1.05),(1.166,0.85),(1.172,0.89),
           (1.19,1.55),(1.20,1.79),(1.22,1.76),(1.24,1.86),(1.26,1.93),(1.276,1.82),(1.30,1.58),(1.325,1.32),
           (1.345,1.31),(1.355,1.44),(1.367,1.44),(1.38,1.34),(1.393,1.44),(1.41,2.17),(1.43,2.34),(1.45,2.46),
           (1.481,2.57),(1.507,2.98),(1.524,2.95),(1.545,2.76),(1.562,2.52),(1.573,2.45),(1.588,2.58),(1.605,2.62),
           (1.624,2.67),(1.64,2.69),(1.66,2.55),(1.673,2.38),(1.685,2.20),(1.695,2.14),(1.707,2.10),(1.722,1.96),
           (1.739,1.65),(1.758,1.06),(1.775,1.10),(1.794,1.43),(1.81,1.00),(1.826,1.44),(1.843,2.34),(1.861,2.93),
           (1.874,3.07),(1.891,2.76),(1.908,1.79),(1.92,0.86),(1.929,-1),(1.95,-1),(1.958,1.03),(1.974,1.13),
           (1.991,0.86),(2.008,0.51),(2.012,-1),(2.057,-1),(2.076,0.86),(2.093,-1),(2.134,-1),(2.139,0.37),
           (2.145,-1),(2.17,-1),(2.174,0.34),(2.18,-1),(2.205,-1),(2.21,0.23),(2.215,-1),(2.253,-1),(2.26,0.94),
           (2.275,0.58),(2.292,1.44),(2.308,0.86),(2.326,0.55),(2.344,1.13),(2.36,1.55),(2.377,1.03),(2.394,0.56),
           (2.411,0.96),(2.424,1.93),(2.443,1.70),(2.461,1.79),(2.477,1.60),(2.494,2.39),(2.509,1.62),(2.526,1.58),
           (2.559,1.98),(2.566,-1),(2.586,-1),(2.592,1.48),(2.61,1.79),(2.627,1.77),(2.642,1.25),(2.65,nan),
           (2.824,-1),(2.826,0.13),(2.839,0.23),(2.858,0.67),(2.879,-1)]
lwp_adi = [(0.03,1.14),(0.05,1.14),(0.06,1.74),(0.08,1.69),(0.095,1.20),(0.10,nan),
           (0.128,1.34),(0.14,1.69),(0.15,1.84),(0.165,1.93),(0.18,1.89),(0.195,1.72),(0.21,1.82),(0.23,1.53),
           (0.245,1.72),(0.255,1.13),(0.30,1.13),(0.31,2.67),(0.33,1.65),(0.345,2.10),(0.36,2.67),(0.375,2.69),
           (0.39,2.75),(0.42,1.20),(0.43,nan),
           (0.555,2.27),(0.575,1.76),(0.595,2.81),(0.61,1.29),(0.625,1.89),(0.64,2.03),(0.66,2.14),(0.68,2.14),
           (0.695,3.02),(0.715,2.33),(0.74,1.62),(0.75,1.51),(0.76,1.44),(0.78,1.43),(0.80,1.51),(0.815,1.17),
           (0.83,1.17),(0.84,2.00),(0.855,1.77),(0.87,1.86),(0.88,1.89),(0.90,2.33),(0.92,2.33),(0.935,2.52),
           (0.95,3.15),(0.965,3.03),(0.98,3.05),(0.995,2.93),(1.01,2.86),(1.025,2.77),(1.04,2.81),(1.05,2.69),
           (1.07,2.91),(1.085,2.60),(1.10,2.48),(1.12,1.43),(1.155,1.43),(1.172,1.51),(1.21,1.96),(1.226,1.43),
           (1.243,1.43),(1.276,2.02),(1.328,2.01),(1.358,1.55),(1.376,2.22),(1.394,1.39),(1.411,1.44),(1.425,2.24),
           (1.452,2.40),(1.462,2.39),(1.477,2.05),(1.494,2.52),(1.507,3.29),(1.524,3.38),(1.543,3.38),(1.559,1.44),
           (1.568,3.12),(1.58,3.14),(1.59,3.17),(1.60,3.21),(1.61,3.20),(1.62,3.15),(1.63,3.10),(1.64,3.07),
           (1.65,3.04),(1.66,2.76),(1.67,2.62),(1.68,2.24),(1.69,2.07),(1.71,2.07),(1.73,1.98),(1.74,1.82),
           (1.75,1.44),(1.77,1.58),(1.78,1.65),(1.79,1.53),(1.80,2.03),(1.81,1.72),(1.82,1.44),(1.83,1.72),
           (1.84,2.58),(1.85,3.31),(1.86,3.41),(1.87,3.48),(1.875,3.57),(1.88,3.55),(1.908,2.07),(1.92,1.82),
           (1.93,1.65),(1.94,1.44),(1.95,1.51),(1.97,1.58),(1.98,1.53),(1.99,1.44),(2.00,1.31),(2.01,1.10),
           (2.02,1.17),(2.03,1.10),(2.06,1.10),(2.07,1.17),(2.08,1.10),(2.10,1.10),(2.11,1.27),(2.12,1.58),
           (2.14,1.62),(2.16,1.70),(2.17,1.89),(2.18,2.05),(2.19,1.58),(2.20,1.10),(2.246,1.10),(2.26,1.20),
           (2.275,1.10),(2.293,2.03),(2.308,1.44),(2.326,1.10),(2.344,1.62),(2.36,2.22),(2.373,1.44),(2.394,1.44),
           (2.41,2.05),(2.425,2.05),(2.443,1.43),(2.46,1.43),(2.477,2.73),(2.494,2.67),(2.51,1.79),(2.526,1.79),
           (2.542,2.19),(2.562,2.21),(2.573,1.62),(2.59,1.89),(2.609,1.98),(2.627,2.00),(2.642,2.08),(2.65,nan),
           (2.76,1.11),(2.776,1.11),(2.791,1.18),(2.805,1.11),(2.827,1.11),(2.842,1.36),(2.857,1.11),(2.941,1.11),
           (2.959,1.51),(2.974,1.15),(2.992,1.15)]
# uncertainty envelopes (t, low, high)
lwp_adi_band = [(0.02,0.55,1.25),(0.05,0.55,1.9),(0.06,0.55,1.95),(0.08,0.6,1.85),(0.10,0.65,1.5),(0.11,nan,nan),
                (0.125,0.9,1.4),(0.14,1.3,1.85),(0.16,1.75,2.05),(0.18,1.65,2.05),(0.20,1.5,1.95),(0.23,1.35,1.8),
                (0.25,0.55,1.6),(0.30,0.55,1.2),(0.31,1.1,2.7),(0.33,1.0,1.7),(0.345,1.9,2.2),(0.36,2.5,2.75),
                (0.39,2.6,2.82),(0.42,0.9,1.4),(0.43,0.9,1.3),(0.44,nan,nan),
                (0.452,0.55,1.27),(0.465,0.55,1.27),(0.47,nan,nan),(0.484,0.55,1.25),(0.497,0.55,1.25),(0.50,nan,nan),
                (0.55,1.5,2.4),(0.575,1.6,1.9),(0.595,2.6,2.85),(0.61,0.9,1.4),(0.625,1.6,2.0),(0.64,1.9,2.15),
                (0.68,2.0,2.3),(0.695,2.9,3.05),(0.715,2.1,2.45),(0.74,1.3,1.8),(0.76,0.6,1.55),(0.78,0.6,1.55),
                (0.80,0.55,1.6),(0.82,0.55,1.2),(0.84,0.55,2.0),(0.855,1.5,1.9),(0.88,1.7,2.0),(0.90,2.2,2.4),
                (0.935,2.4,2.6),(0.95,3.05,3.2),(1.00,2.85,3.0),(1.05,2.6,2.75),(1.07,2.8,2.95),(1.10,2.3,2.5),
                (1.12,0.7,1.5),(1.17,0.7,1.55),(1.21,1.8,2.05),(1.24,0.75,1.6),(1.276,1.9,2.1),(1.33,1.6,2.1),
                (1.36,0.9,1.6),(1.376,1.5,2.3),(1.40,0.9,1.6),(1.425,2.0,2.3),(1.46,2.2,2.45),(1.48,1.9,2.15),
                (1.52,3.25,3.42),(1.545,3.25,3.42),(1.56,1.2,1.6),(1.57,3.05,3.2),(1.60,3.15,3.25),(1.65,2.95,3.1),
                (1.68,2.0,2.3),(1.72,1.7,2.1),(1.75,0.95,1.55),(1.80,1.5,2.2),(1.82,1.0,1.6),(1.84,2.4,2.6),
                (1.875,3.5,3.6),(1.91,1.7,2.2),(1.94,1.0,1.6),(2.00,0.6,1.5),(2.05,0.6,1.3),(2.10,0.65,1.25),
                (2.18,1.2,2.2),(2.20,0.6,1.3),(2.27,0.6,1.3),(2.29,0.9,2.1),(2.32,0.55,1.3),(2.35,1.1,2.3),
                (2.38,0.6,1.5),(2.41,1.7,2.2),(2.44,0.6,1.5),(2.46,0.6,1.5),(2.477,2.6,2.8),(2.51,1.3,1.9),
                (2.54,1.7,2.25),(2.57,1.2,1.8),(2.60,1.5,2.0),(2.645,1.7,2.2),(2.65,nan,nan),
                (2.684,0.55,1.93),(2.70,0.55,1.93),(2.705,nan,nan),
                (2.75,0.55,1.5),(2.80,0.55,1.5),(2.84,0.6,1.7),(2.86,0.55,1.5),(2.94,0.55,1.5),(2.96,0.6,1.85),
                (2.975,0.55,1.5),(3.00,0.55,1.5)]
lwp_phy_band = [(0.02,-0.2,0.95),(0.05,-0.2,1.1),(0.08,-0.2,1.3),(0.10,-0.2,0.9),(0.11,nan,nan),
                (0.12,-0.2,0.9),(0.14,1.3,1.7),(0.16,1.6,1.95),(0.18,1.25,1.75),(0.20,1.3,1.6),(0.22,-0.2,1.35),
                (0.25,-0.2,1.2),(0.28,-0.2,0.95),(0.30,-0.2,1.0),(0.32,-0.2,1.3),(0.345,1.2,1.6),(0.36,2.1,2.35),
                (0.375,2.5,2.7),(0.39,2.1,2.4),(0.41,0.9,1.4),(0.43,-0.2,1.2),(0.44,nan,nan),
                (0.452,-0.2,0.6),(0.465,-0.2,0.6),(0.47,nan,nan),
                (0.54,-0.2,1.15),(0.57,-0.2,1.3),(0.60,-0.2,0.9),(0.62,0.5,1.5),(0.645,1.5,1.9),(0.665,1.0,1.5),
                (0.69,0.6,1.2),(0.715,-0.2,1.0),(0.73,-0.2,0.8),(0.74,nan,nan),
                (0.845,-0.2,0.8),(0.86,1.2,1.6),(0.875,1.1,1.5),(0.89,1.8,2.05),(0.93,2.45,2.62),(0.96,2.65,2.78),
                (0.99,2.2,2.4),(1.02,2.65,2.78),(1.05,2.1,2.3),(1.085,1.5,1.85),(1.10,0.8,1.3),(1.11,-0.2,1.0),
                (1.14,-0.2,1.2),(1.172,0.5,1.2),(1.19,1.35,1.7),(1.22,1.6,1.85),(1.26,1.8,2.0),(1.30,1.1,1.7),
                (1.345,0.9,1.55),(1.38,0.9,1.5),(1.393,1.0,1.55),(1.43,2.25,2.4),(1.481,2.5,2.62),(1.507,2.9,3.02),
                (1.562,2.45,2.58),(1.64,2.62,2.73),(1.685,2.1,2.25),(1.722,1.85,2.0),(1.758,-0.2,1.2),
                (1.794,0.9,1.55),(1.81,-0.2,1.1),(1.843,2.2,2.4),(1.874,3.0,3.12),(1.908,1.2,1.9),(1.92,-0.2,1.2),
                (1.958,0.5,1.3),(1.991,0.4,1.1),(2.01,-0.2,1.0),(2.10,-0.2,0.9),(2.20,-0.2,0.9),(2.254,0.5,1.2),
                (2.292,0.9,1.6),(2.326,-0.2,0.9),(2.36,1.0,1.6),(2.394,-0.2,0.9),(2.424,1.6,2.0),(2.46,1.2,1.85),
                (2.494,2.2,2.45),(2.526,1.2,1.7),(2.559,1.5,2.1),(2.566,-0.2,1.2),(2.592,0.9,1.55),(2.627,1.2,1.85),
                (2.66,0.5,1.3),(2.68,-0.2,0.55),(2.75,-0.2,0.9),(2.80,-0.2,1.0),(2.84,-0.2,1.2),(2.90,-0.2,0.9),
                (3.00,-0.2,0.9)]
lwp_adi_single = [(0.458,1.21),(0.49,1.19),(0.775,1.21),(2.692,1.74)]
lwp_phy_single = [(0.458,0.21)]
lwp_grey = [(0.02,0.052),(0.253,0.303),(0.453,0.469),(0.487,0.502),(0.769,0.785),(0.802,0.836),(1.12,1.136),
            (1.319,1.351),(1.402,1.417),(1.685,1.718),(1.751,1.767),(1.818,1.833),(1.934,1.95),(1.984,2.017),
            (2.034,2.066),(2.083,2.249),(2.267,2.283),(2.30,2.349),(2.367,2.40),(2.568,2.584),(2.75,2.784),
            (2.801,2.833),(2.851,3.0)]
lwp_yellow = [(0.0,0.02),(0.104,0.12),(0.437,0.453),(0.469,0.487),(0.502,0.552),(0.752,0.769),(0.785,0.802),
              (2.651,2.684),(2.701,2.75),(2.995,3.008)]
lwp_cyan = [(1.485,1.568)]

# Phy-Iter data quality flag per minute: (first minute, last minute, flag)
dq_runs = [(0,0,5),(1,2,4),(3,5,0),(6,6,5),(7,14,0),(15,17,4),(18,25,0),(26,26,5),(27,27,4),(28,28,5),
           (29,29,4),(30,32,5),(33,44,0),(45,45,5),(46,46,4),(47,47,5),(48,49,4),(50,66,0),(67,67,4),(68,78,0),
           (79,80,4),(81,83,0),(84,84,4),(85,88,0),(89,90,10),(89,93,11),(93,93,4),(94,100,0),(101,102,4),
           (103,104,0),(105,105,4),(106,108,0),(109,109,4),(110,110,0),(111,113,6),(114,115,0),(116,116,4),
           (117,118,0),(119,120,4),(121,121,0),(122,123,4),(124,124,0),(125,134,4),(135,135,0),(136,136,4),
           (137,137,0),(138,140,4),(141,141,0),(142,143,4),(144,151,0),(152,152,6),(153,153,0),(154,154,3),
           (155,158,0),(159,160,5),(161,161,0),(162,164,5),(165,166,4),(167,167,0),(168,169,4),(170,170,0),
           (171,176,4),(177,177,3),(178,179,4),(180,180,5)]

XLABEL = "UTC hours on 20240512"

# ---------------- style ----------------
C_2C = "#0000FF"
C_3C = "#ADD8E6"
C_PHY = "#FF8C00"
C_ADI = "#800080"
C_AX = "#0072BD"
C_DARK = "#262626"
plt.rcParams["font.family"] = ["DejaVu Sans"]


def xy(pairs):
    a = np.array(pairs, dtype=float)
    return a[:, 0], a[:, 1]


def style(ax, ylim, yticks, ylabel):
    ax.set_xlim(0, 3)
    ax.set_ylim(*ylim)
    ax.set_xticks([0, 0.5, 1, 1.5, 2, 2.5, 3])
    ax.set_yticks(yticks)
    fmt = FuncFormatter(lambda v, p: f"{v:g}")
    ax.xaxis.set_major_formatter(fmt)
    ax.yaxis.set_major_formatter(fmt)
    ax.tick_params(axis="x", direction="in", length=19, width=1.4, color=C_DARK,
                   labelcolor=C_DARK, labelsize=27, pad=25)
    ax.tick_params(axis="y", direction="in", length=19, width=1.4, color=C_AX,
                   labelcolor=C_AX, labelsize=27, pad=22)
    ax.spines["top"].set_visible(False)
    ax.spines["left"].set_color(C_AX)
    ax.spines["left"].set_linewidth(1.5)
    ax.spines["right"].set_color(C_AX)
    ax.spines["right"].set_linewidth(1.0)
    ax.spines["bottom"].set_color(C_DARK)
    ax.spines["bottom"].set_linewidth(1.5)
    ax.set_xlabel(XLABEL, fontsize=34, color=C_DARK)
    ax.xaxis.set_label_coords(0.5, -0.106)
    ax.set_ylabel(ylabel, fontsize=34, color=C_AX)
    ax.yaxis.set_label_coords(-0.039, 0.5)


def legend(ax, x, y):
    leg = ax.legend(loc="upper left", bbox_to_anchor=(x, y), frameon=False, fontsize=28,
                    borderpad=0, borderaxespad=0, handlelength=6.0, handletextpad=0.6,
                    labelspacing=0.55)
    for t in leg.get_texts():
        t.set_linespacing(1.6)
    return leg


fig = plt.figure(figsize=(38.25, 60), dpi=100)
L, W, H = 0.097, 0.688, 0.1511
axs = [fig.add_axes([L, y0, W, H]) for y0 in (0.7998, 0.6122, 0.4245, 0.2370, 0.0495)]

# ---- panel 1: 23 GHz
ax = axs[0]
t, v = xy(bt23_phy)
ax.fill_between(t, v - 0.3, v + 0.3, color=C_PHY, alpha=0.2, lw=0)
ax.plot(*xy(bt23_2c), color=C_2C, lw=2.8, label="MWR 2C (tan = wet window)")
ax.plot(*xy(bt23_3c), color=C_3C, lw=3.3, label="MWR 3C")
ax.plot(t, v, color=C_PHY, lw=6.5, label="Phy-Iter")
style(ax, (30.43, 73.18), [35, 40, 45, 50, 55, 60, 65, 70], "Zenith BT 23 GHz, K")
legend(ax, 0.097, 0.915)

# ---- panel 2: 31 GHz
ax = axs[1]
t, v = xy(bt31_phy)
ax.fill_between(t, v - 0.5, v + 0.5, color=C_PHY, alpha=0.2, lw=0)
ax.plot(*xy(bt31_2c), color=C_2C, lw=2.8, label="MWR2C")
ax.plot(*xy(bt31_3c), color=C_3C, lw=3.3, label="MWR 3C (tan = rain flag)")
ax.plot(t, v, color=C_PHY, lw=6.5, label="Phy-Iter")
style(ax, (15.7, 84.4), [20, 30, 40, 50, 60, 70, 80], "Zenith BT 31 GHz, K")
legend(ax, 0.109, 0.915)

# ---- panel 3: PWV
ax = axs[2]
t, v = xy(pwv_phy)
ax.fill_between(t, v - 0.008, v + 0.008, color=C_PHY, alpha=0.2, lw=0)
ax.plot(*xy(pwv_2c), color=C_2C, lw=2.2, label="MWR 2C PWV")
ax.plot(*xy(pwv_3c), color=C_3C, lw=3.0, label="MWR 3C PWV")
ax.plot(t, v, color=C_PHY, lw=6.5,
        label="Phy-Iter PWV\n(tan = MWR 2C only)\n(brown = MWR 3C only)")
for a, b in pwv_tan:
    ax.axvspan(a, b, color="#D2B48C", alpha=0.5, lw=0, zorder=3)
for a, b in pwv_brown:
    ax.axvspan(a, b, color="#A52A2A", alpha=0.5, lw=0, zorder=3)
style(ax, (1.725, 2.397), [1.8, 1.9, 2.0, 2.1, 2.2, 2.3], "Precip. Water Vapor, mm")
legend(ax, 0.032, 0.898)

# ---- panel 4: LWP
ax = axs[3]
b = np.array(lwp_adi_band, dtype=float)
ax.fill_between(b[:, 0], b[:, 1], b[:, 2], color=C_ADI, alpha=0.2, lw=0)
b = np.array(lwp_phy_band, dtype=float)
ax.fill_between(b[:, 0], b[:, 1], b[:, 2], color=C_PHY, alpha=0.2, lw=0)
ax.plot(*xy(lwp_2c), color=C_2C, lw=2.7, label="MWR 2C LWP")
ax.plot(*xy(lwp_3c), color=C_3C, lw=3.3, label="MWR 3C LWP")
ax.plot(*xy(lwp_phy), color=C_PHY, lw=6.0, label="Phy-Iter LWP")
ax.plot(*xy(lwp_adi), color=C_ADI, lw=2.7, label="Adiabatic LWP")
ax.plot(*xy(lwp_adi_single), ls="none", marker="x", ms=14, mew=4, color=C_ADI)
ax.plot(*xy(lwp_phy_single), ls="none", marker="x", ms=14, mew=4, color=C_PHY)
for a, b2 in lwp_grey:
    ax.axvspan(a, b2, color="#CCCCCC", alpha=0.5, lw=0, zorder=3)
for a, b2 in lwp_yellow:
    ax.axvspan(a, b2, color="#FFFF00", alpha=0.5, lw=0, zorder=3)
for a, b2 in lwp_cyan:
    ax.axvspan(a, b2, color="#00FFFF", alpha=0.5, lw=0, zorder=3)
style(ax, (-0.104, 3.994), [0, 0.5, 1, 1.5, 2, 2.5, 3, 3.5],
      r"log10 Liquid Water Path, log10(g/m$^2$)")
legend(ax, 0.733, 0.95)

# ---- panel 5: DQ flag
ax = axs[4]
dq_t, dq_f = [], []
for m0, m1, f in dq_runs:
    for m in range(m0, m1 + 1):
        dq_t.append((m + 0.5) / 60.0)
        dq_f.append(f)
ax.plot(dq_t, dq_f, ls="none", marker="o", ms=6, mew=0, color=C_PHY, clip_on=False)
style(ax, (-0.515, 11.52), [0, 2, 4, 6, 8, 10], "MWR Phy Iter DQ Flag")

fig.savefig("out.png", dpi=100)
